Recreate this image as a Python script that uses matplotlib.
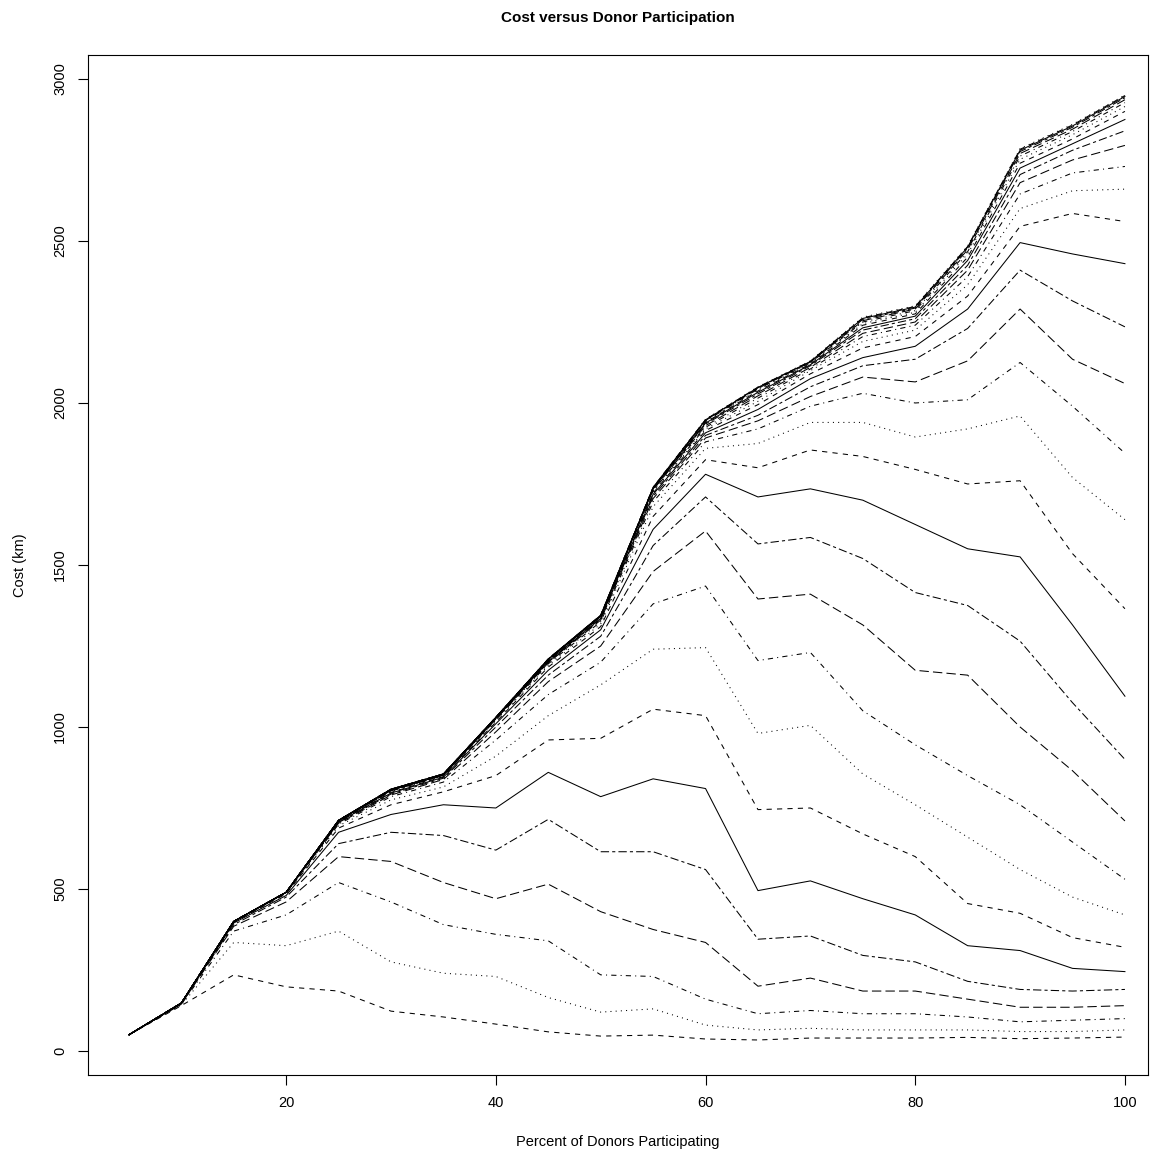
import matplotlib
matplotlib.use("Agg")
import matplotlib.pyplot as plt

plt.rcParams['font.family'] = ['Liberation Sans', 'DejaVu Sans']

# percent of donors participating
pct = [5, 10, 15, 20, 25, 30, 35, 40, 45, 50, 55, 60, 65, 70, 75, 80, 85, 90, 95, 100]

# cost (km), one row per curve, bottom curve first
costs = [
    [50, 140, 235, 198, 185, 123, 105, 83, 59, 46, 49, 37, 34, 40, 40, 40, 42, 38, 40, 43],
    [50, 142, 335, 325, 370, 275, 240, 230, 165, 120, 130, 80, 65, 70, 65, 65, 65, 60, 60, 65],
    [50, 144, 370, 420, 520, 460, 390, 360, 340, 235, 230, 160, 115, 125, 115, 115, 105, 90, 95, 100],
    [50, 145, 385, 460, 600, 585, 520, 470, 515, 430, 375, 335, 200, 225, 185, 185, 160, 135, 135, 140],
    [50, 146, 390, 475, 640, 675, 665, 620, 715, 615, 615, 560, 345, 355, 295, 275, 215, 190, 185, 190],
    [50, 147, 395, 480, 675, 730, 760, 750, 860, 785, 840, 810, 495, 525, 470, 420, 325, 310, 255, 245],
    [50, 147, 397, 485, 688, 760, 800, 850, 960, 965, 1055, 1035, 745, 750, 670, 600, 455, 425, 350, 320],
    [50, 148, 398, 487, 695, 775, 815, 910, 1035, 1130, 1240, 1245, 980, 1005, 855, 760, 660, 560, 475, 420],
    [50, 148, 399, 488, 700, 785, 830, 960, 1100, 1200, 1380, 1435, 1205, 1230, 1050, 945, 850, 760, 645, 530],
    [50, 148, 399, 489, 703, 790, 838, 985, 1140, 1250, 1480, 1605, 1395, 1410, 1315, 1175, 1160, 1000, 865, 710],
    [50, 148, 400, 489, 705, 793, 842, 1000, 1160, 1280, 1560, 1710, 1565, 1585, 1520, 1415, 1375, 1265, 1075, 900],
    [50, 148, 400, 490, 707, 796, 845, 1010, 1175, 1300, 1610, 1780, 1710, 1735, 1700, 1625, 1550, 1525, 1315, 1095],
    [50, 148, 400, 490, 708, 798, 847, 1015, 1185, 1310, 1650, 1825, 1800, 1855, 1835, 1795, 1750, 1760, 1535, 1365],
    [50, 148, 400, 490, 709, 800, 849, 1020, 1190, 1318, 1680, 1860, 1875, 1940, 1940, 1895, 1920, 1960, 1770, 1640],
    [50, 148, 400, 490, 710, 802, 850, 1022, 1195, 1325, 1695, 1880, 1920, 1990, 2030, 2000, 2010, 2125, 1990, 1845],
    [50, 148, 400, 490, 710, 803, 851, 1024, 1198, 1330, 1705, 1892, 1945, 2020, 2080, 2065, 2130, 2290, 2135, 2060],
    [50, 148, 400, 490, 711, 804, 852, 1025, 1200, 1333, 1712, 1900, 1962, 2050, 2115, 2135, 2230, 2410, 2315, 2235],
    [50, 148, 400, 490, 711, 805, 852, 1026, 1202, 1335, 1718, 1908, 1980, 2075, 2140, 2175, 2290, 2495, 2460, 2430],
    [50, 148, 400, 490, 711, 805, 853, 1027, 1204, 1337, 1722, 1915, 1995, 2090, 2170, 2205, 2330, 2545, 2585, 2560],
    [50, 148, 400, 490, 712, 806, 853, 1027, 1205, 1339, 1726, 1920, 2005, 2100, 2190, 2225, 2365, 2600, 2655, 2660],
    [50, 148, 400, 490, 712, 806, 854, 1028, 1206, 1340, 1729, 1925, 2015, 2105, 2205, 2240, 2390, 2645, 2710, 2730],
    [50, 148, 400, 490, 712, 807, 854, 1028, 1207, 1341, 1732, 1930, 2022, 2110, 2215, 2250, 2410, 2680, 2750, 2795],
    [50, 148, 400, 490, 712, 807, 854, 1029, 1208, 1342, 1734, 1935, 2028, 2115, 2225, 2260, 2425, 2705, 2780, 2840],
    [50, 148, 400, 490, 712, 807, 855, 1029, 1208, 1342, 1735, 1938, 2033, 2118, 2232, 2268, 2440, 2725, 2800, 2875],
    [50, 148, 400, 490, 712, 807, 855, 1029, 1209, 1343, 1736, 1940, 2037, 2120, 2240, 2275, 2450, 2740, 2815, 2900],
    [50, 148, 400, 490, 712, 808, 855, 1029, 1209, 1343, 1737, 1942, 2040, 2122, 2245, 2280, 2460, 2752, 2828, 2915],
    [50, 148, 400, 490, 712, 808, 855, 1030, 1209, 1344, 1738, 1944, 2043, 2124, 2250, 2285, 2467, 2762, 2838, 2927],
    [50, 148, 400, 490, 712, 808, 855, 1030, 1210, 1344, 1738, 1946, 2045, 2126, 2254, 2290, 2473, 2770, 2845, 2936],
    [50, 148, 400, 490, 712, 808, 855, 1030, 1210, 1344, 1739, 1947, 2047, 2127, 2258, 2293, 2478, 2776, 2851, 2942],
    [50, 148, 400, 490, 712, 808, 855, 1030, 1210, 1345, 1739, 1948, 2048, 2128, 2261, 2296, 2481, 2780, 2855, 2946],
    [50, 148, 400, 490, 712, 808, 855, 1030, 1210, 1345, 1740, 1949, 2049, 2129, 2263, 2298, 2483, 2783, 2858, 2949],
    [50, 148, 400, 490, 712, 808, 855, 1030, 1210, 1345, 1740, 1950, 2050, 2130, 2265, 2300, 2485, 2785, 2860, 2950],
]

xticks = [20, 40, 60, 80, 100]
yticks = [0, 500, 1000, 1500, 2000, 2500, 3000]

# R style line types, cycling from the bottom curve up
ltys = [(0, (5, 5)), (0, (1, 4)), (0, (1, 4, 5, 4)), (0, (9, 4)), (0, (3, 3, 8, 3)), 'solid']

fig = plt.figure(figsize=(11.61, 11.58), dpi=100)
ax = fig.add_axes([0.0758, 0.0717, 0.913, 0.8808])

for i, row in enumerate(costs):
    ax.plot(pct, row, color='black', lw=0.75, linestyle=ltys[i % 6])

ax.set_xlim(1.1, 102.2)
ax.set_ylim(-74, 3074)
ax.set_xticks(xticks)
ax.set_yticks(yticks)
ax.set_yticklabels([str(t) for t in yticks], rotation=90, va='center')
ax.tick_params(direction='out', length=7, width=0.8, labelsize=10.5, pad=8)
for s in ax.spines.values():
    s.set_linewidth(0.8)

ax.set_title('Cost versus Donor Participation', fontsize=11, fontweight='bold', pad=24)
ax.set_xlabel('Percent of Donors Participating', fontsize=10.5, labelpad=18)
ax.set_ylabel('Cost (km)', fontsize=10.5, labelpad=19)

fig.savefig('out.png', dpi=100)
